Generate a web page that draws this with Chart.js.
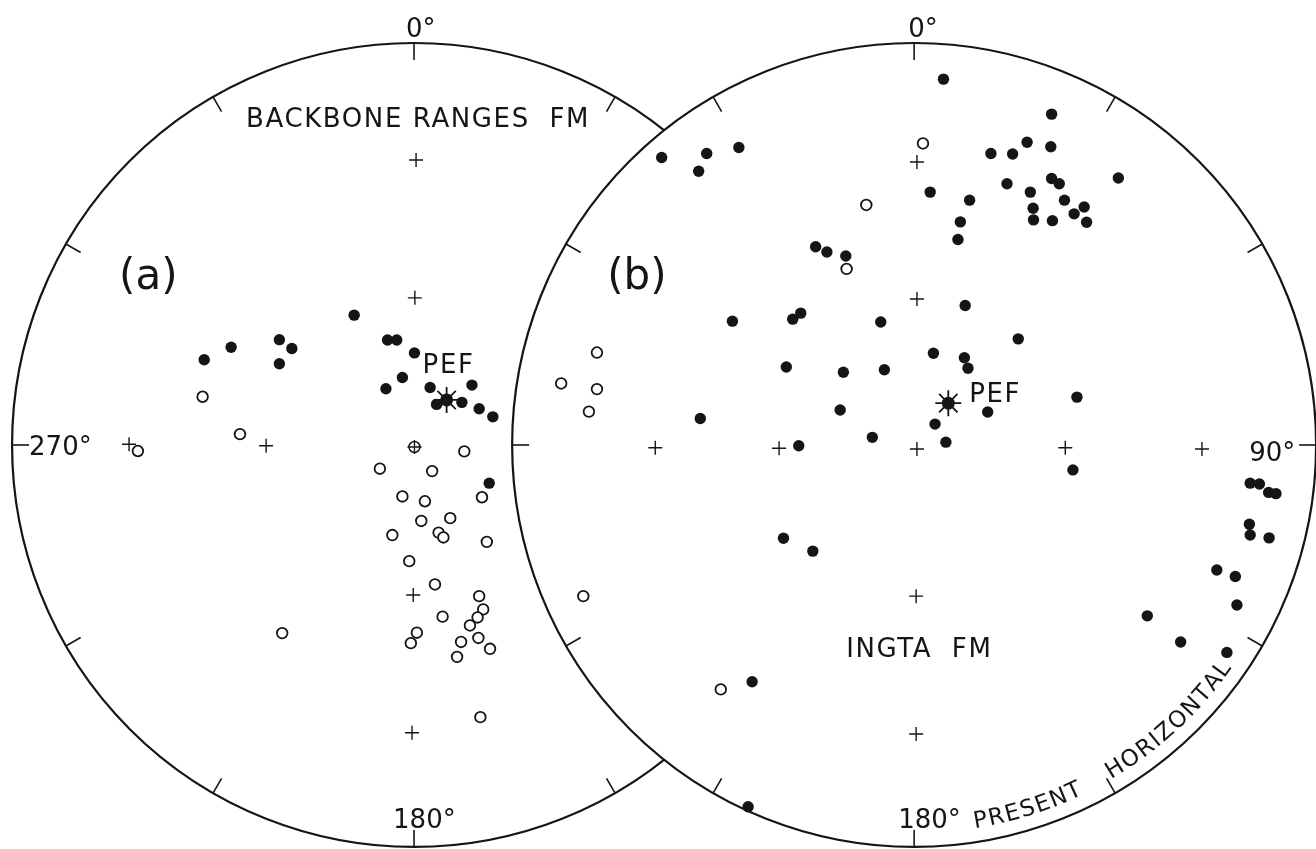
<!DOCTYPE html>
<html>
<head>
<meta charset="utf-8">
<script src="https://cdn.jsdelivr.net/npm/chart.js@4.4.1/dist/chart.umd.min.js"></script>
<style>
  html, body { margin: 0; padding: 0; background: #fff; }
  #wrap { width: 1316px; height: 849px; }
</style>
</head>
<body>
<div id="wrap"><canvas id="net" width="1316" height="849"></canvas></div>
<script>
// Equal-area nets. Every point is in percent of the net radius,
// measured from the centre of its own net, north up, east right.
const netTitles = ['BACKBONE RANGES FM', 'INGTA FM'];
const panelLabels = ['(a)', '(b)'];
const rimText = ['PRESENT', 'HORIZONTAL'];

// (a) Backbone Ranges Fm
const leftFilled = [
  [-14.9, 32.3], [-45.5, 24.3], [-52.2, 21.2], [-33.5, 26.2], [-30.4, 24.0], [-33.5, 20.2],
  [-6.6, 26.1], [-4.3, 26.1], [0.1, 22.9], [-2.9, 16.8], [-7.0, 14.0], [4.0, 14.3],
  [14.4, 14.9], [5.6, 10.1], [11.9, 10.6], [16.2, 9.0], [19.6, 7.0], [18.7, -9.5]
];
const leftOpen = [
  [-52.6, 12.0], [-43.3, 2.7], [-68.7, -1.5], [12.5, -1.6], [-8.5, -5.9], [4.5, -6.5],
  [-2.9, -12.8], [2.7, -14.0], [16.9, -13.0], [9.0, -18.2], [1.8, -18.9], [6.1, -21.8],
  [7.3, -23.0], [-5.4, -22.4], [18.1, -24.1], [-1.2, -28.9], [5.2, -34.7], [16.2, -37.6],
  [17.2, -40.9], [15.8, -42.9], [7.1, -42.7], [13.9, -44.9], [0.7, -46.7], [-0.8, -49.3],
  [16.0, -48.0], [11.7, -49.0], [18.9, -50.7], [10.7, -52.7], [16.5, -67.7], [-32.8, -46.8]
];
const leftPef = [[8.1, 11.2]];
const leftGrid = [[0.5, 70.9], [0.2, 36.6], [-36.8, -0.2], [-70.9, 0.2], [0.1, -0.5], [-0.2, -37.3], [-0.5, -71.6]];
const leftCentre = [[0.1, -0.5]];

// (b) Ingta Fm
const rightFilled = [
  [7.3, 91.0], [-62.8, 71.5], [-51.6, 72.5], [-53.6, 68.1], [-43.6, 74.0], [4.0, 62.9],
  [34.2, 82.3], [28.1, 75.3], [34.0, 74.2], [19.1, 72.5], [24.5, 72.4], [50.8, 66.4],
  [23.1, 65.0], [34.2, 66.3], [36.1, 65.0], [13.8, 60.9], [28.9, 62.9], [37.4, 60.9],
  [29.6, 58.9], [42.3, 59.2], [39.8, 57.5], [11.5, 55.5], [29.7, 56.0], [34.4, 55.8],
  [42.9, 55.4], [10.9, 51.1], [-24.5, 49.3], [-21.7, 48.0], [-17.0, 47.0], [12.7, 34.7],
  [-45.2, 30.8], [-30.2, 31.3], [-28.2, 32.8], [-8.3, 30.6], [25.9, 26.4], [4.8, 22.8],
  [12.5, 21.7], [13.4, 19.1], [-31.8, 19.4], [-17.6, 18.1], [-7.4, 18.7], [18.3, 8.2],
  [40.5, 11.9], [-53.2, 6.6], [-18.4, 8.7], [5.2, 5.2], [-10.4, 1.9], [7.9, 0.7],
  [-28.7, -0.2], [39.5, -6.2], [-32.5, -23.2], [-25.2, -26.4], [83.6, -9.5], [85.9, -9.7],
  [88.2, -11.8], [90.0, -12.1], [83.4, -19.7], [83.6, -22.4], [88.3, -23.1], [75.3, -31.1],
  [79.9, -32.7], [80.3, -39.8], [58.0, -42.5], [66.3, -49.0], [77.8, -51.6], [-40.3, -58.9],
  [-41.3, -90.0]
];
const rightOpen = [
  [2.2, 75.0], [-11.9, 59.7], [-16.8, 43.8], [-87.8, 15.3], [-78.9, 23.0], [-78.9, 13.9],
  [-80.9, 8.3], [-82.3, -37.6], [-48.1, -60.8]
];
const rightPef = [[8.5, 10.4]];
const rightGrid = [[0.7, 70.4], [0.7, 36.3], [-64.4, -0.7], [-33.6, -0.8], [0.7, -1.0], [37.6, -0.7], [71.6, -1.0], [0.5, -37.6], [0.5, -71.9]];

// where the two nets sit on the shared axes (radius = 100)
const netCentres = [[0, 0], [124.4, 0]];

function toPoints(arr, net) {
  const [ox, oy] = netCentres[net];
  return arr.map(([x, y]) => ({ x: x + ox, y: y + oy }));
}

const ink = '#151515';
const font = (size) => `${size}px "DejaVu Sans"`;

const netPlugin = {
  id: 'net',
  beforeDatasetsDraw(chart) {
    const { ctx, scales: { x, y } } = chart;
    const r = x.getPixelForValue(100) - x.getPixelForValue(0);
    ctx.save();
    ctx.strokeStyle = ink;
    ctx.fillStyle = ink;

    const centres = netCentres.map(([a, b]) => [x.getPixelForValue(a), y.getPixelForValue(b)]);

    centres.forEach(([cx, cy]) => {
      ctx.beginPath();
      ctx.arc(cx, cy, r, 0, Math.PI * 2);
      ctx.fillStyle = '#fff';
      ctx.fill();
      ctx.lineWidth = 2.2;
      ctx.stroke();
      ctx.lineWidth = 1.6;
      for (let a = 0; a < 360; a += 30) {
        const t = a * Math.PI / 180;
        ctx.beginPath();
        ctx.moveTo(cx + Math.sin(t) * r, cy - Math.cos(t) * r);
        ctx.lineTo(cx + Math.sin(t) * (r - 17), cy - Math.cos(t) * (r - 17));
        ctx.stroke();
      }
    });

    ctx.fillStyle = ink;
    ctx.textAlign = 'left';
    ctx.textBaseline = 'alphabetic';
    const [L, R] = centres;

    // azimuth labels
    ctx.font = font(26);
    ctx.fillText('0°', L[0] - 8, L[1] - 408);
    ctx.fillText('0°', R[0] - 6, R[1] - 408);
    ctx.fillText('180°', L[0] - 21, L[1] + 383);
    ctx.fillText('180°', R[0] - 16, R[1] + 383);
    ctx.fillText('270°', L[0] - 385, L[1] + 10);
    ctx.fillText('90°', R[0] + 335, R[1] + 16);

    // titles
    ctx.letterSpacing = '1.6px';
    ctx.fillText(netTitles[0].replace('S F', 'S  F'), L[0] - 168, L[1] - 318);
    ctx.fillText(netTitles[1].replace('A F', 'A  F'), R[0] - 68, R[1] + 212);

    // PEF labels next to the stars
    const lp = [x.getPixelForValue(leftPef[0][0] + netCentres[0][0]), y.getPixelForValue(leftPef[0][1] + netCentres[0][1])];
    const rp = [x.getPixelForValue(rightPef[0][0] + netCentres[1][0]), y.getPixelForValue(rightPef[0][1] + netCentres[1][1])];
    ctx.fillText('PEF', lp[0] - 24, lp[1] - 27);
    ctx.fillText('PEF', rp[0] + 21, rp[1] - 1);
    ctx.letterSpacing = '0px';

    // panel letters
    ctx.font = font(42);
    ctx.fillText(panelLabels[0], L[0] - 295, L[1] - 156);
    ctx.fillText(panelLabels[1], R[0] - 307, R[1] - 156);

    // text along the rim of net (b)
    ctx.font = font(23);
    ctx.textAlign = 'center';
    const rb = r - 14;
    const starts = [9, 30.5];
    rimText.forEach((word, k) => {
      let phi = starts[k] * Math.PI / 180;
      for (const ch of word) {
        const w = ctx.measureText(ch).width;
        const mid = phi + (w / 2) / rb;
        ctx.save();
        ctx.translate(R[0] + rb * Math.sin(mid), R[1] + rb * Math.cos(mid));
        ctx.rotate(-mid);
        ctx.fillText(ch, 0, 0);
        ctx.restore();
        phi += (w + 1.5) / rb;
      }
    });
    ctx.restore();
  }
};

new Chart(document.getElementById('net'), {
  type: 'scatter',
  data: {
    datasets: [
      { label: 'PEF star', data: [...toPoints(leftPef, 0), ...toPoints(rightPef, 1)],
        pointStyle: 'star', radius: 13, borderWidth: 1.8, borderColor: ink, backgroundColor: ink, order: 0 },
      { label: 'PEF', data: [...toPoints(leftPef, 0), ...toPoints(rightPef, 1)],
        pointStyle: 'circle', radius: 6.5, borderWidth: 0, backgroundColor: ink, order: 1 },
      { label: 'Normal', data: [...toPoints(leftFilled, 0), ...toPoints(rightFilled, 1)],
        pointStyle: 'circle', radius: 5.7, borderWidth: 0, backgroundColor: ink, order: 2 },
      { label: 'Reversed', data: [...toPoints(leftOpen, 0), ...toPoints(rightOpen, 1)],
        pointStyle: 'circle', radius: 5.3, borderWidth: 1.8, borderColor: ink, backgroundColor: '#fff', order: 3 },
      { label: 'Centre', data: toPoints(leftCentre, 0),
        pointStyle: 'circle', radius: 5.5, borderWidth: 1.5, borderColor: ink, backgroundColor: 'rgba(0,0,0,0)', order: 4 },
      { label: 'Grid', data: [...toPoints(leftGrid, 0), ...toPoints(rightGrid, 1)],
        pointStyle: 'cross', radius: 7, borderWidth: 1.4, borderColor: ink, order: 5 }
    ]
  },
  options: {
    responsive: false,
    animation: false,
    devicePixelRatio: 1,
    events: [],
    layout: { padding: 0, autoPadding: false },
    plugins: { legend: { display: false }, tooltip: { enabled: false } },
    scales: {
      x: { type: 'linear', min: -103, max: 224.37, display: false },
      y: { type: 'linear', min: -100.5, max: 110.69, display: false }
    }
  },
  plugins: [netPlugin]
});
</script>
</body>
</html>
